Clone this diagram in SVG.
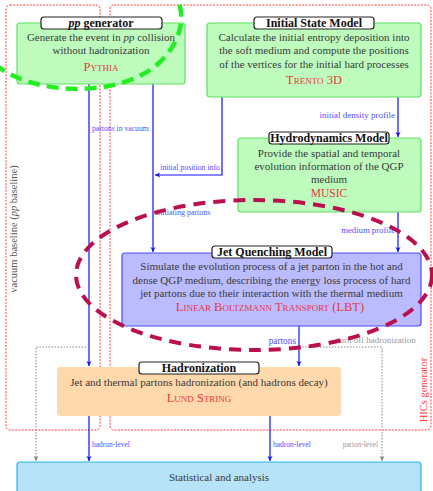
<svg xmlns="http://www.w3.org/2000/svg" width="433" height="491" viewBox="0 0 433 491">
<style>
text{font-family:"Liberation Serif","DejaVu Serif",serif;}
.body{font-size:11px;fill:#3a3a3a;text-anchor:middle;}
.title{font-size:12px;font-weight:bold;fill:#111;text-anchor:middle;}
.tab{fill:#fff;stroke:#222;stroke-width:1.2;}
.red{font-size:12.5px;fill:#e8383d;text-anchor:middle;font-variant:small-caps;}
.lbl{fill:#5050ff;}
.glbl{fill:#999;}
.frame{fill:none;stroke:#ff3a3a;stroke-width:1;stroke-dasharray:2 1.3;}
.conn{fill:none;stroke:#1010ff;stroke-width:1.2;}
.gconn{fill:none;stroke:#888;stroke-width:1;stroke-dasharray:1.5 1.5;}
.green{fill:#bdfcbd;stroke:#5fe25f;stroke-width:1.2;}
</style>
<defs>
<marker id="ab" markerWidth="6" markerHeight="6" refX="5" refY="3" orient="auto" markerUnits="userSpaceOnUse">
<path d="M0,0.5 L5,3 L0,5.5 L1.2,3 Z" fill="#1010ff"/>
</marker>
<marker id="ag" markerWidth="6" markerHeight="6" refX="5" refY="3" orient="auto" markerUnits="userSpaceOnUse">
<path d="M0,0.5 L5,3 L0,5.5 L1.2,3 Z" fill="#888"/>
</marker>
</defs>
<rect width="433" height="491" fill="#fff"/>

<g id="frames">
<rect class="frame" x="6" y="5" width="94" height="425" rx="4"/>
<rect class="frame" x="110" y="5" width="321" height="425" rx="4"/>
<text x="17" y="229" font-size="10.5" fill="#555" text-anchor="middle" transform="rotate(-90 17 229)">vacuum baseline (<tspan font-style="italic">pp</tspan> baseline)</text>
<text x="427" y="390" font-size="10.5" fill="#ff3a3a" text-anchor="middle" transform="rotate(-90 427 390)">HICs generator</text>
</g>

<g id="connectors">
<path class="conn" d="M89,84 V366" marker-end="url(#ab)"/>
<path class="conn" d="M153,84 V252" marker-end="url(#ab)"/>
<path class="conn" d="M222,97 V175 H155" marker-end="url(#ab)"/>
<path class="conn" d="M398,97 V137" marker-end="url(#ab)"/>
<path class="conn" d="M398,212 V252" marker-end="url(#ab)"/>
<path class="conn" d="M299,326 V366" marker-end="url(#ab)"/>
<path class="conn" d="M89,416 V461" marker-end="url(#ab)"/>
<path class="conn" d="M270,416 V461" marker-end="url(#ab)"/>
<path class="gconn" d="M89,347 H36 V461" marker-end="url(#ag)"/>
<path class="gconn" d="M299,347 H382 V461" marker-end="url(#ag)"/>
<text class="lbl" x="92" y="131" font-size="7.7">partons in vacuum</text>
<text class="lbl" x="220" y="170" font-size="7.8" text-anchor="end">initial position info</text>
<text class="lbl" x="156" y="215" font-size="8">initiating partons</text>
<text class="lbl" x="395" y="118" font-size="9" text-anchor="end">initial density profile</text>
<text class="lbl" x="395" y="233" font-size="8.7" text-anchor="end">medium profile</text>
<text class="lbl" x="296" y="344" font-size="9.3" text-anchor="end">partons</text>
<text class="glbl" x="337" y="343" font-size="9">turn off hadronization</text>
<text class="lbl" x="92" y="447" font-size="7.5">hadron-level</text>
<text class="lbl" x="273" y="447" font-size="7.5">hadron-level</text>
<text class="glbl" x="378" y="447" font-size="7.3" text-anchor="end">parton-level</text>
</g>

<g id="pp-generator">
<rect class="green" x="17" y="23" width="168" height="61" rx="3"/>
<rect class="tab" x="41" y="17" width="121" height="12" rx="3"/>
<text class="title" x="101" y="26.5"><tspan font-style="italic">pp</tspan> generator</text>
<text class="body" x="101" y="40.5">Generate the event in <tspan font-style="italic">pp</tspan> collision</text>
<text class="body" x="101" y="54">without hadronization</text>
<text class="red" x="101" y="71">Pythia</text>
</g>

<g id="initial-state">
<rect class="green" x="207" y="23" width="214" height="74" rx="3"/>
<rect class="tab" x="254" y="17" width="120" height="12" rx="3"/>
<text class="title" x="314" y="26.5">Initial State Model</text>
<text class="body" x="314" y="40.5">Calculate the initial entropy deposition into</text>
<text class="body" x="314" y="54">the soft medium and compute the positions</text>
<text class="body" x="314" y="67.5">of the vertices for the initial hard processes</text>
<text class="red" x="314" y="84">Trento 3D</text>
</g>

<g id="hydro">
<rect class="green" x="238" y="138" width="183" height="74" rx="3"/>
<rect class="tab" x="269" y="132" width="120" height="12" rx="3"/>
<text class="title" x="329" y="141.5">Hydrodynamics Model</text>
<text class="body" x="329" y="157">Provide the spatial and temporal</text>
<text class="body" x="329" y="170">evolution information of the QGP</text>
<text class="body" x="329" y="183">medium</text>
<text class="red" x="329" y="197" style="font-variant:normal;font-size:11.5px">MUSIC</text>
</g>

<g id="jet-quenching">
<rect x="122" y="253" width="299" height="73" rx="3" fill="#bbbbff" stroke="#4c4cff" stroke-width="1.2"/>
<rect class="tab" x="212" y="246" width="120" height="12" rx="3"/>
<text class="title" x="272" y="255.5">Jet Quenching Model</text>
<text class="body" x="271.5" y="270">Simulate the evolution process of a jet parton in the hot and</text>
<text class="body" x="271.5" y="283.5">dense QGP medium, describing the energy loss process of hard</text>
<text class="body" x="271.5" y="297">jet partons due to their interaction with the thermal medium</text>
<text class="red" x="270" y="311">Linear Boltzmann Transport (LBT)</text>
</g>

<g id="hadronization">
<rect x="57" y="367" width="284" height="49" rx="3" fill="#ffd8ab"/>
<rect class="tab" x="139" y="362" width="120" height="12" rx="3"/>
<text class="title" x="199" y="371.5">Hadronization</text>
<text class="body" x="199" y="385.5">Jet and thermal partons hadronization (and hadrons decay)</text>
<text class="red" x="199" y="401.5">Lund String</text>
</g>

<g id="statistics">
<rect x="17" y="462" width="404" height="40" rx="3" fill="#b6e3f7" stroke="#28b4ee" stroke-width="1.2"/>
<text class="body" x="219" y="480.5">Statistical and analysis</text>
</g>

<g id="highlights">
<path d="M-5,64 C30,95 120,100 160,62 C185,38 185,10 175,-5" fill="none" stroke="#22ee22" stroke-width="4.5" stroke-dasharray="12 7"/>
<ellipse cx="254" cy="275" rx="178" ry="75" fill="none" stroke="#bb1050" stroke-width="4" stroke-dasharray="12 8"/>
</g>
</svg>
